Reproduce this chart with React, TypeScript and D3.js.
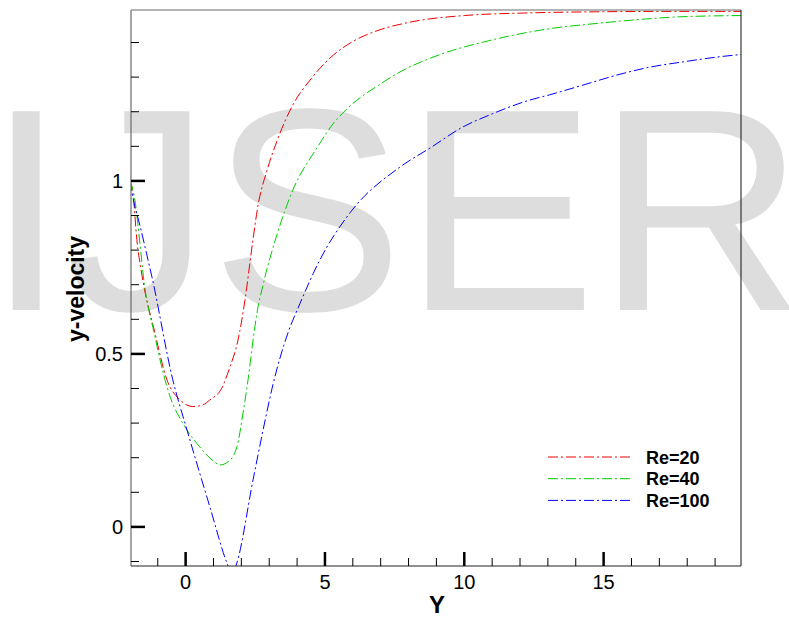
import React from "react";
import * as d3 from "d3";

// Re=20
const re20X = [-2.0, -1.89, -1.75, -1.58, -1.1, -0.67, -0.2, 0.26, 0.6, 0.87, 1.29, 1.59, 1.88, 2.13, 2.4, 2.6, 2.92, 3.3, 3.85, 4.5, 5.18, 6.0, 6.87, 8.0, 10.0, 12.5, 15.0, 17.5, 20.0];
const re20Y = [1.0, 0.965, 0.83, 0.734, 0.56, 0.425, 0.367, 0.348, 0.352, 0.367, 0.40, 0.462, 0.54, 0.656, 0.82, 0.93, 1.03, 1.12, 1.22, 1.295, 1.355, 1.403, 1.434, 1.458, 1.478, 1.486, 1.489, 1.49, 1.49];
// Re=40
const re40X = [-2.0, -1.82, -1.64, -1.53, -1.1, -0.67, 0.05, 0.51, 1.0, 1.23, 1.52, 1.84, 2.06, 2.24, 2.42, 2.56, 2.78, 3.28, 3.85, 4.71, 5.29, 5.79, 7.08, 7.58, 9.02, 10.92, 13.07, 14.86, 16.67, 17.64, 20.0];
const re40Y = [1.0, 0.945, 0.82, 0.734, 0.55, 0.405, 0.28, 0.231, 0.19, 0.179, 0.188, 0.231, 0.329, 0.425, 0.54, 0.618, 0.70, 0.845, 0.974, 1.095, 1.165, 1.208, 1.285, 1.31, 1.362, 1.406, 1.44, 1.456, 1.469, 1.474, 1.478];
// Re=100
const re100X = [-2.0, -1.82, -1.71, -1.35, -1.21, -0.46, 0.05, 0.87, 1.48, 1.67, 1.84, 2.42, 2.78, 3.13, 3.67, 4.1, 4.82, 5.9, 7.69, 8.77, 9.95, 10.92, 12.36, 13.07, 14.26, 15.48, 16.67, 17.85, 19.07, 20.0];
const re100Y = [1.0, 0.925, 0.893, 0.772, 0.723, 0.425, 0.28, 0.058, -0.104, -0.14, -0.104, 0.136, 0.28, 0.41, 0.56, 0.645, 0.772, 0.908, 1.04, 1.095, 1.156, 1.191, 1.234, 1.249, 1.277, 1.306, 1.329, 1.344, 1.358, 1.366];

const seriesNames = ["Re=20", "Re=40", "Re=100"];
const seriesColors = ["#ee0000", "#00cc00", "#0000ff"];
const seriesXs = [re20X, re40X, re100X];
const seriesYs = [re20Y, re40Y, re100Y];

const xMajorTicks = [0, 5, 10, 15];
const xMinorTicks = [-1, 1, 2, 3, 4, 6, 7, 8, 9, 11, 12, 13, 14, 16, 17, 18, 19];
const yMajorTicks = [0, 0.5, 1];
const yMajorLabels = ["0", "0.5", "1"];
const yMinorTicks = [-0.1, 0.1, 0.2, 0.3, 0.4, 0.6, 0.7, 0.8, 0.9, 1.1, 1.2, 1.3, 1.4];

const W = 789;
const H = 618;
const L = 131, R = 741, T = 10, B = 566;
const DASH = "10,3,2,3";

export default function App() {
  const x = d3.scaleLinear().domain([-1.96, 19.93]).range([L, R]);
  const y = d3.scaleLinear().domain([-0.113, 1.494]).range([B, T]);
  const line = d3
    .line<[number, number]>()
    .x((d) => x(d[0]))
    .y((d) => y(d[1]))
    .curve(d3.curveMonotoneX);

  const font = "'Liberation Sans', Arial, Helvetica, sans-serif";

  return (
    <div style={{ position: "fixed", left: 0, top: 0, width: W, height: H, background: "#fff" }}>
      <svg width={W} height={H} style={{ display: "block" }} fontFamily={font}>
        <defs>
          <clipPath id="plotClip">
            <rect x={L} y={T} width={R - L} height={B - T} />
          </clipPath>
        </defs>
        <rect x={0} y={0} width={W} height={H} fill="#fff" />
        {/* watermark */}
        <text x={-14} y={310} fontSize={289} fill="#dddddd" fontFamily={font}>
          IJSER
        </text>

        {/* curves */}
        <g clipPath="url(#plotClip)">
          {seriesXs.map((xs, i) => {
            const pts: [number, number][] = xs.map((v, j) => [v, seriesYs[i][j]]);
            return (
              <path
                key={i}
                d={line(pts) || ""}
                fill="none"
                stroke={seriesColors[i]}
                strokeWidth={1}
                strokeDasharray={DASH}
              />
            );
          })}
        </g>

        {/* frame */}
        <line x1={L} x2={L} y1={T} y2={B} stroke="#6a6a6a" strokeWidth={1.2} />
        <line x1={L} x2={R} y1={T} y2={T} stroke="#6a6a6a" strokeWidth={1.2} />
        <line x1={R} x2={R} y1={T} y2={B} stroke="#111" strokeWidth={1} />
        <line x1={L} x2={R} y1={B} y2={B} stroke="#222" strokeWidth={1.2} />

        {/* y ticks */}
        {yMinorTicks.map((t) => (
          <line key={"ym" + t} x1={L} x2={L + 8} y1={y(t)} y2={y(t)} stroke="#000" strokeWidth={1} />
        ))}
        {yMajorTicks.map((t, i) => (
          <g key={"yM" + t}>
            <line x1={L} x2={L + 14} y1={y(t)} y2={y(t)} stroke="#000" strokeWidth={2.5} />
            <text x={123} y={y(t) + 7} textAnchor="end" fontSize={20} fill="#000">
              {yMajorLabels[i]}
            </text>
          </g>
        ))}

        {/* x ticks */}
        {xMinorTicks.map((t) => (
          <line key={"xm" + t} x1={x(t)} x2={x(t)} y1={B} y2={B - 8} stroke="#000" strokeWidth={1} />
        ))}
        {xMajorTicks.map((t) => (
          <g key={"xM" + t}>
            <line x1={x(t)} x2={x(t)} y1={B} y2={B - 14} stroke="#000" strokeWidth={2.5} />
            <text x={x(t)} y={589} textAnchor="middle" fontSize={20} fill="#000">
              {String(t)}
            </text>
          </g>
        ))}

        {/* axis titles */}
        <text x={437} y={613} textAnchor="middle" fontSize={24} fontWeight="bold" fill="#000">
          Y
        </text>
        <text
          transform="translate(84,289) rotate(-90)"
          textAnchor="middle"
          fontSize={23}
          fontWeight="bold"
          fill="#000"
        >
          y-velocity
        </text>

        {/* legend */}
        {seriesNames.map((name, i) => {
          const ly = 457 + i * 21.7;
          return (
            <g key={name}>
              <line x1={548} x2={631} y1={ly} y2={ly} stroke={seriesColors[i]} strokeWidth={1} strokeDasharray={DASH} />
              <text x={646} y={ly + 6.5} fontSize={18} fontWeight="bold" fill="#000">
                {name}
              </text>
            </g>
          );
        })}
      </svg>
    </div>
  );
}
